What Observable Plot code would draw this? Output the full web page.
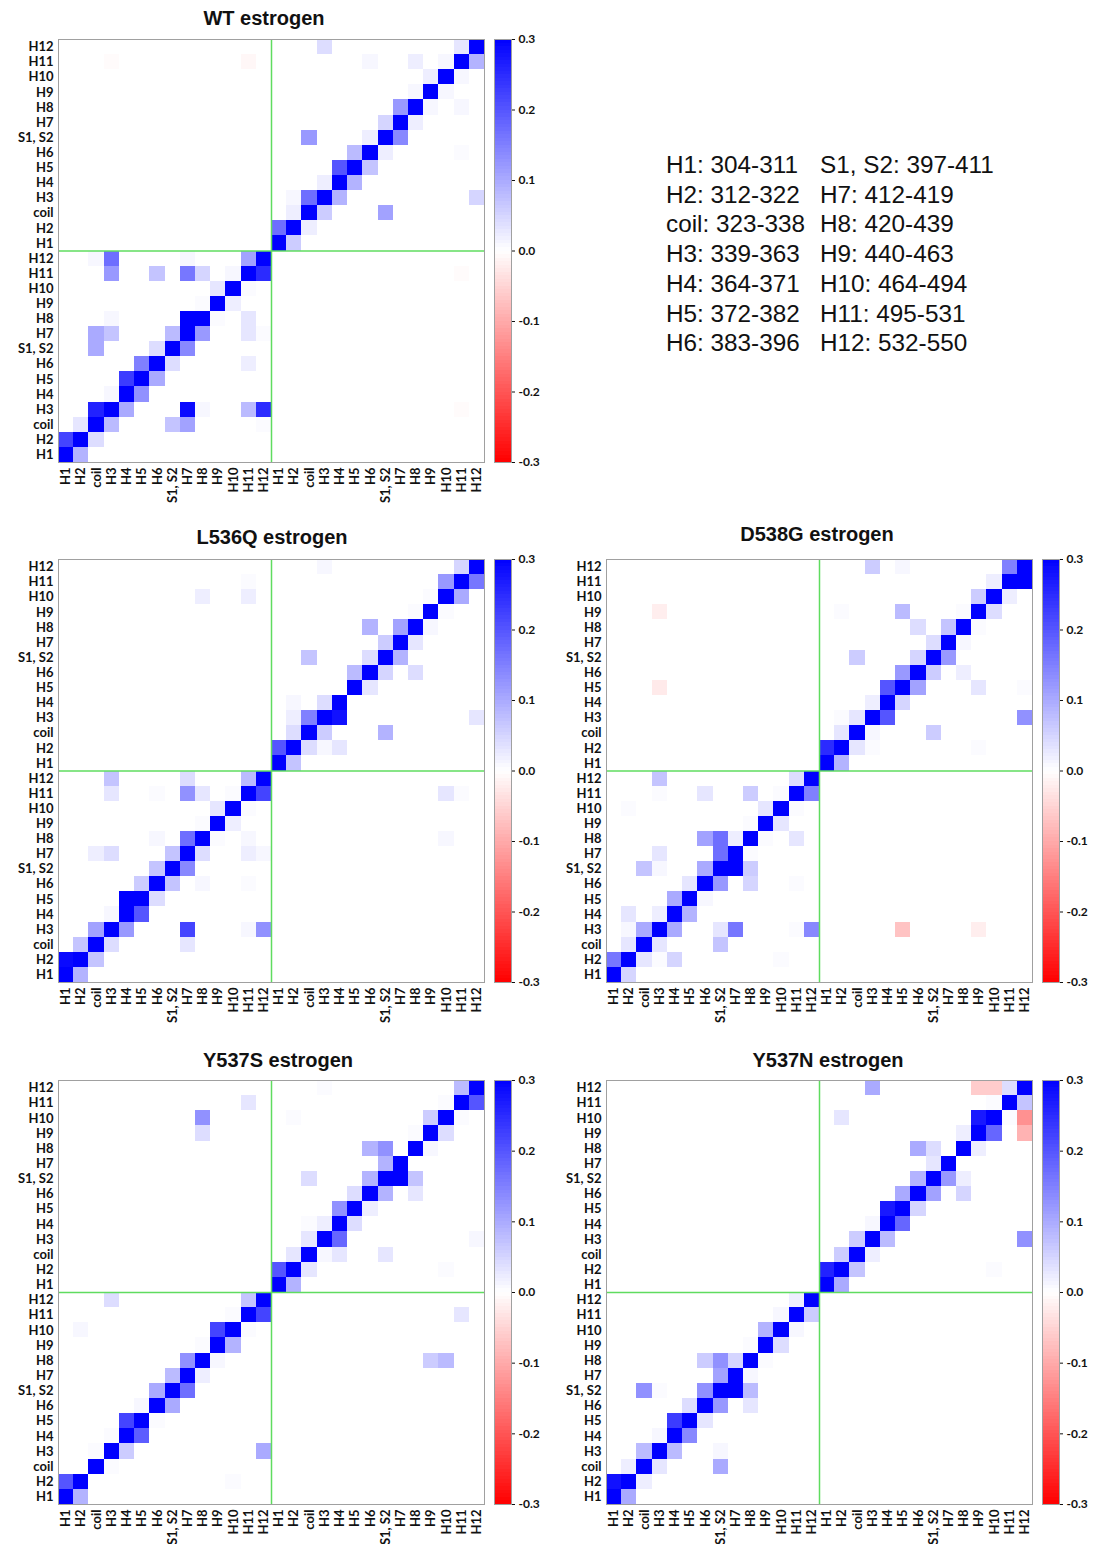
<!DOCTYPE html>
<html><head><meta charset="utf-8">
<script src="https://cdn.jsdelivr.net/npm/d3@7"></script>
<script src="https://cdn.jsdelivr.net/npm/@observablehq/plot@0.6"></script>
<style>
body{margin:0;background:#fff;}
#page{position:relative;width:1099px;height:1544px;overflow:hidden;background:#fff;font-family:"Liberation Sans",Arial,sans-serif;}
.abs{position:absolute;}
.abs svg{max-width:none !important;}
.title{position:absolute;font-weight:bold;font-size:20px;transform:translate(-50%,-50%);white-space:nowrap;color:#111;}
.legend{position:absolute;font-size:24.3px;line-height:28px;white-space:nowrap;color:#111;}
</style></head><body><div id="page"></div>
<script>
// Segment labels (chain A: indices 0-13, chain B: indices 14-27)
const segments = ["H1","H2","coil","H3","H4","H5","H6","S1, S2","H7","H8","H9","H10","H11","H12"];
const colorTicks = [-0.3,-0.2,-0.1,0,0.1,0.2,0.3];
const legendNames = ["H1","H2","coil","H3","H4","H5","H6","S1, S2","H7","H8","H9","H10","H11","H12"];
const legendRanges = ["304-311","312-322","323-338","339-363","364-371","372-382","383-396","397-411","412-419","420-439","440-463","464-494","495-531","532-550"];
const panelTitles = ["WT estrogen","L536Q estrogen","D538G estrogen","Y537S estrogen","Y537N estrogen"];

// cells: [row index, column index, value]
const wtCells = [
[27,17,0.04],[27,26,0.03],[27,27,0.3],
[26,3,-0.005],[26,12,-0.01],[26,20,0.01],[26,23,0.02],[26,25,0.01],[26,26,0.3],[26,27,0.09],
[25,24,0.02],[25,25,0.3],[25,26,0.01],
[24,23,0.01],[24,24,0.3],[24,25,0.01],
[23,22,0.12],[23,23,0.3],[23,24,0.01],[23,26,0.01],
[22,21,0.05],[22,22,0.3],[22,23,0.02],
[21,16,0.12],[21,20,0.02],[21,21,0.3],[21,22,0.14],
[20,19,0.08],[20,20,0.3],[20,21,0.02],[20,26,0.005],
[19,18,0.2],[19,19,0.3],[19,20,0.07],
[18,17,0.02],[18,18,0.3],[18,19,0.09],
[17,15,0.01],[17,16,0.17],[17,17,0.3],[17,18,0.09],[17,27,0.05],
[16,15,0.02],[16,16,0.3],[16,17,0.06],[16,21,0.11],
[15,14,0.17],[15,15,0.3],[15,16,0.02],
[14,14,0.3],[14,15,0.06],
[13,2,0.01],[13,3,0.17],[13,8,0.01],[13,12,0.11],[13,13,0.3],
[12,3,0.12],[12,6,0.07],[12,8,0.16],[12,9,0.05],[12,11,0.01],[12,12,0.3],[12,13,0.25],[12,26,-0.005],
[11,10,0.03],[11,11,0.3],[11,12,0.005],
[10,9,0.005],[10,10,0.3],[10,11,0.02],
[9,3,0.01],[9,8,0.3],[9,9,0.3],[9,10,0.005],[9,12,0.03],
[8,2,0.1],[8,3,0.07],[8,7,0.08],[8,8,0.3],[8,9,0.12],[8,12,0.03],[8,13,0.005],
[7,2,0.1],[7,6,0.04],[7,7,0.3],[7,8,0.14],
[6,5,0.15],[6,6,0.3],[6,7,0.04],[6,12,0.02],
[5,4,0.23],[5,5,0.3],[5,6,0.1],
[4,3,0.01],[4,4,0.3],[4,5,0.13],
[3,2,0.26],[3,3,0.3],[3,4,0.1],[3,8,0.29],[3,9,0.01],[3,12,0.08],[3,13,0.25],[3,26,-0.005],
[2,1,0.03],[2,2,0.3],[2,3,0.08],[2,7,0.07],[2,8,0.11],[2,13,0.005],
[1,0,0.22],[1,1,0.3],[1,2,0.04],
[0,0,0.3],[0,1,0.09]
];
const l536qCells = [
[27,17,0.01],[27,26,0.05],[27,27,0.3],
[26,12,0.005],[26,25,0.12],[26,26,0.3],[26,27,0.16],
[25,9,0.02],[25,12,0.02],[25,24,0.005],[25,25,0.3],[25,26,0.1],
[24,23,0.005],[24,24,0.3],[24,25,0.005],
[23,20,0.09],[23,22,0.11],[23,23,0.3],[23,24,0.01],
[22,21,0.06],[22,22,0.3],[22,23,0.03],
[21,16,0.07],[21,20,0.04],[21,21,0.3],[21,22,0.09],
[20,19,0.08],[20,20,0.3],[20,21,0.05],[20,23,0.04],
[19,19,0.3],[19,20,0.03],
[18,15,0.01],[18,17,0.04],[18,18,0.3],
[17,15,0.02],[17,16,0.15],[17,17,0.3],[17,18,0.28],[17,27,0.03],
[16,15,0.04],[16,16,0.3],[16,17,0.06],[16,21,0.09],
[15,14,0.2],[15,15,0.3],[15,16,0.04],[15,17,0.01],[15,18,0.03],
[14,14,0.3],[14,15,0.07],
[13,3,0.07],[13,8,0.04],[13,12,0.08],[13,13,0.3],
[12,3,0.03],[12,6,0.005],[12,8,0.13],[12,9,0.03],[12,11,0.005],[12,12,0.3],[12,13,0.22],[12,25,0.03],[12,26,0.005],
[11,10,0.03],[11,11,0.3],[11,12,0.005],
[10,9,0.005],[10,10,0.3],[10,11,0.02],
[9,6,0.01],[9,8,0.17],[9,9,0.3],[9,10,0.005],[9,12,0.01],[9,25,0.01],
[8,2,0.02],[8,3,0.04],[8,7,0.07],[8,8,0.3],[8,9,0.04],[8,12,0.02],[8,13,0.01],
[7,6,0.07],[7,7,0.3],[7,8,0.14],
[6,5,0.06],[6,6,0.3],[6,7,0.07],[6,9,0.01],[6,12,0.005],
[5,4,0.3],[5,5,0.3],[5,6,0.04],
[4,3,0.01],[4,4,0.3],[4,5,0.2],
[3,2,0.11],[3,3,0.3],[3,4,0.12],[3,8,0.22],[3,12,0.01],[3,13,0.13],
[2,1,0.07],[2,2,0.3],[2,3,0.04],[2,8,0.03],
[1,0,0.29],[1,1,0.3],[1,2,0.07],
[0,0,0.3],[0,1,0.09]
];
const d538gCells = [
[27,17,0.06],[27,19,0.01],[27,26,0.15],[27,27,0.3],
[26,25,0.02],[26,26,0.3],[26,27,0.3],
[25,24,0.06],[25,25,0.3],[25,26,0.02],
[24,3,-0.02],[24,15,0.005],[24,19,0.08],[24,23,0.005],[24,24,0.3],[24,25,0.04],
[23,20,0.04],[23,22,0.07],[23,23,0.3],[23,24,0.005],
[22,21,0.04],[22,22,0.3],[22,23,0.01],
[21,16,0.06],[21,20,0.05],[21,21,0.3],[21,22,0.12],
[20,19,0.12],[20,20,0.3],[20,21,0.06],[20,23,0.02],
[19,3,-0.025],[19,18,0.2],[19,19,0.3],[19,20,0.11],[19,24,0.03],[19,27,0.005],
[18,17,0.02],[18,18,0.3],[18,19,0.05],
[17,15,0.005],[17,16,0.03],[17,17,0.3],[17,18,0.2],[17,27,0.13],
[16,15,0.03],[16,16,0.3],[16,17,0.01],[16,21,0.06],
[15,14,0.25],[15,15,0.3],[15,16,0.03],[15,17,0.005],[15,24,0.005],
[14,14,0.3],[14,15,0.09],
[13,3,0.07],[13,12,0.04],[13,13,0.3],
[12,3,0.005],[12,6,0.03],[12,9,0.06],[12,11,0.005],[12,12,0.3],[12,13,0.15],
[11,1,0.005],[11,10,0.03],[11,11,0.3],[11,12,0.005],
[10,9,0.005],[10,10,0.3],[10,11,0.03],
[9,6,0.11],[9,7,0.17],[9,8,0.02],[9,9,0.3],[9,10,0.005],[9,12,0.03],
[8,3,0.03],[8,7,0.17],[8,8,0.3],[8,9,0.005],
[7,2,0.07],[7,3,0.01],[7,6,0.1],[7,7,0.3],[7,8,0.3],[7,9,0.06],
[6,5,0.03],[6,6,0.3],[6,7,0.12],[6,9,0.05],[6,12,0.005],
[5,4,0.1],[5,5,0.3],[5,6,0.01],
[4,1,0.03],[4,3,0.02],[4,4,0.3],[4,5,0.09],
[3,1,0.01],[3,2,0.1],[3,3,0.3],[3,4,0.1],[3,7,0.03],[3,8,0.16],[3,12,0.005],[3,13,0.14],[3,19,-0.07],[3,24,-0.02],
[2,1,0.03],[2,2,0.3],[2,3,0.03],[2,7,0.07],
[1,0,0.16],[1,1,0.3],[1,2,0.03],[1,3,0.005],[1,4,0.05],[1,11,0.005],
[0,0,0.3],[0,1,0.05]
];
const y537sCells = [
[27,17,0.005],[27,26,0.08],[27,27,0.3],
[26,12,0.03],[26,25,0.005],[26,26,0.3],[26,27,0.2],
[25,9,0.13],[25,15,0.005],[25,24,0.06],[25,25,0.3],[25,26,0.005],
[24,9,0.04],[24,23,0.005],[24,24,0.3],[24,25,0.04],
[23,20,0.09],[23,21,0.13],[23,23,0.3],[23,24,0.01],
[22,21,0.09],[22,22,0.3],
[21,16,0.04],[21,20,0.09],[21,21,0.3],[21,22,0.3],[21,23,0.07],
[20,19,0.04],[20,20,0.3],[20,21,0.09],[20,23,0.03],
[19,18,0.13],[19,19,0.3],[19,20,0.02],
[18,16,0.005],[18,17,0.02],[18,18,0.3],[18,19,0.04],
[17,16,0.03],[17,17,0.3],[17,18,0.18],[17,27,0.01],
[16,15,0.03],[16,16,0.3],[16,17,0.01],[16,18,0.03],[16,21,0.03],
[15,14,0.2],[15,15,0.3],[15,16,0.03],[15,25,0.005],
[14,14,0.3],[14,15,0.09],
[13,3,0.04],[13,12,0.07],[13,13,0.3],
[12,11,0.005],[12,12,0.3],[12,13,0.22],[12,26,0.03],
[11,1,0.01],[11,10,0.22],[11,11,0.3],[11,12,0.005],
[10,9,0.005],[10,10,0.3],[10,11,0.09],
[9,8,0.13],[9,9,0.3],[9,10,0.01],[9,24,0.06],[9,25,0.08],
[8,7,0.08],[8,8,0.3],[8,9,0.02],
[7,6,0.1],[7,7,0.3],[7,8,0.17],
[6,5,0.01],[6,6,0.3],[6,7,0.1],
[5,4,0.22],[5,5,0.3],[5,6,0.005],
[4,3,0.005],[4,4,0.3],[4,5,0.19],
[3,2,0.005],[3,3,0.3],[3,4,0.06],[3,13,0.1],
[2,2,0.3],[2,3,0.005],
[1,0,0.2],[1,1,0.3],[1,11,0.005],
[0,0,0.3],[0,1,0.09]
];
const y537nCells = [
[27,17,0.1],[27,24,-0.06],[27,25,-0.06],[27,26,0.04],[27,27,0.3],
[26,25,0.005],[26,26,0.3],[26,27,0.07],
[25,15,0.03],[25,24,0.27],[25,25,0.3],[25,26,0.005],[25,27,-0.13],
[24,23,0.02],[24,24,0.3],[24,25,0.18],[24,27,-0.09],
[23,20,0.1],[23,21,0.04],[23,23,0.3],[23,24,0.02],
[22,21,0.03],[22,22,0.3],
[21,20,0.09],[21,21,0.3],[21,22,0.12],[21,23,0.02],
[20,19,0.1],[20,20,0.3],[20,21,0.11],[20,23,0.05],
[19,18,0.27],[19,19,0.3],[19,20,0.05],
[18,17,0.01],[18,18,0.3],[18,19,0.18],
[17,16,0.06],[17,17,0.3],[17,18,0.08],[17,27,0.13],
[16,15,0.06],[16,16,0.3],[16,17,0.02],
[15,14,0.26],[15,15,0.3],[15,16,0.07],[15,25,0.005],
[14,14,0.3],[14,15,0.1],
[13,12,0.02],[13,13,0.3],
[12,11,0.01],[12,12,0.3],[12,13,0.06],
[11,10,0.09],[11,11,0.3],[11,12,0.01],
[10,9,0.005],[10,10,0.3],[10,11,0.04],
[9,6,0.06],[9,7,0.13],[9,8,0.05],[9,9,0.3],[9,10,0.005],
[8,7,0.11],[8,8,0.3],[8,9,0.01],
[7,2,0.13],[7,3,0.005],[7,6,0.13],[7,7,0.3],[7,8,0.3],[7,9,0.08],
[6,5,0.04],[6,6,0.3],[6,7,0.12],[6,9,0.03],
[5,4,0.23],[5,5,0.3],[5,6,0.03],
[4,3,0.01],[4,4,0.3],[4,5,0.14],
[3,2,0.08],[3,3,0.3],[3,4,0.08],[3,7,0.01],
[2,1,0.02],[2,2,0.3],[2,3,0.03],[2,7,0.1],
[1,0,0.28],[1,1,0.3],[1,2,0.02],
[0,0,0.3],[0,1,0.1]
];

const colorScale = {type:"linear", domain:[-0.3,0,0.3], range:["#ff0000","#ffffff","#0000ff"], interpolate:"rgb", clamp:true};
const N = 28;
const tickPos = d3.range(N).map(i => i + 0.5);
const segLabel = v => segments[Math.floor(v) % 14];
const axisStyle = {fontFamily:"Lato, 'Open Sans', sans-serif", fontSize:"13px", fontWeight:"bold", color:"#111", background:"transparent", overflow:"visible", maxWidth:"none"};

function heatmap(cells, h) {
  return Plot.plot({
    width: 58 + 426 + 3, height: 2 + h + 70,
    marginLeft: 58, marginRight: 3, marginTop: 2, marginBottom: 70,
    style: axisStyle,
    x: {domain:[0,N], ticks: tickPos, tickFormat: segLabel, tickRotate: -90, tickSize: 0, tickPadding: 5, label: null},
    y: {domain:[0,N], ticks: tickPos, tickFormat: segLabel, tickSize: 0, tickPadding: 5, label: null},
    color: colorScale,
    marks: [
      Plot.rect(cells, {x1: d => d[1], x2: d => d[1] + 1, y1: d => d[0], y2: d => d[0] + 1, fill: d => d[2], shapeRendering: "crispEdges"}),
      Plot.ruleX([14], {stroke: "#5fdc5f", strokeWidth: 1.5}),
      Plot.ruleY([14], {stroke: "#5fdc5f", strokeWidth: 1.5}),
      Plot.frame({stroke: "#a0a0a0"})
    ]
  });
}

function colorbar(h) {
  const steps = d3.range(-0.3, 0.3, 0.005);
  return Plot.plot({
    width: 17 + 45, height: h + 16,
    marginTop: 8, marginBottom: 8, marginLeft: 0, marginRight: 45,
    style: {...axisStyle, fontSize: "12px"},
    x: {domain:[0,1], axis: null},
    y: {domain:[-0.3,0.3], axis: "right", ticks: colorTicks, tickFormat: d => (Math.abs(d) < 1e-9 ? 0 : d).toFixed(1), tickSize: 3, tickPadding: 4, label: null},
    color: colorScale,
    marks: [
      Plot.rect(steps, {x1: () => 0, x2: () => 1, y1: d => d, y2: d => d + 0.0055, fill: d => d + 0.0025, shapeRendering: "crispEdges"}),
      Plot.frame({stroke: "#a0a0a0"})
    ]
  });
}

const page = document.getElementById("page");
const layout = [
  {cells: wtCells, left: 58, top: 39, h: 423, tx: 264, ty: 18},
  {cells: l536qCells, left: 58, top: 559, h: 423, tx: 272, ty: 537},
  {cells: d538gCells, left: 606, top: 559, h: 423, tx: 817, ty: 534},
  {cells: y537sCells, left: 58, top: 1080, h: 424, tx: 278, ty: 1060},
  {cells: y537nCells, left: 606, top: 1080, h: 424, tx: 828, ty: 1060}
];
layout.forEach((p, i) => {
  const hm = heatmap(p.cells, p.h);
  const d1 = document.createElement("div");
  d1.className = "abs"; d1.style.left = (p.left - 58) + "px"; d1.style.top = (p.top - 2) + "px";
  d1.style.width = "487px";
  d1.appendChild(hm); page.appendChild(d1);
  const cb = colorbar(p.h);
  const d2 = document.createElement("div");
  d2.className = "abs"; d2.style.left = (p.left + 436) + "px"; d2.style.top = (p.top - 8) + "px";
  d2.style.width = "62px";
  d2.appendChild(cb); page.appendChild(d2);
  const t = document.createElement("div");
  t.className = "title"; t.style.left = p.tx + "px"; t.style.top = p.ty + "px";
  t.textContent = panelTitles[i]; page.appendChild(t);
});
legendNames.forEach((name, i) => {
  const col = Math.floor(i / 7), row = i % 7;
  const d = document.createElement("div");
  d.className = "legend";
  d.style.left = (col === 0 ? 666 : 820) + "px";
  d.style.top = (165 + row * 29.7 - 14) + "px";
  d.textContent = name + ": " + legendRanges[i];
  page.appendChild(d);
});
</script></body></html>
